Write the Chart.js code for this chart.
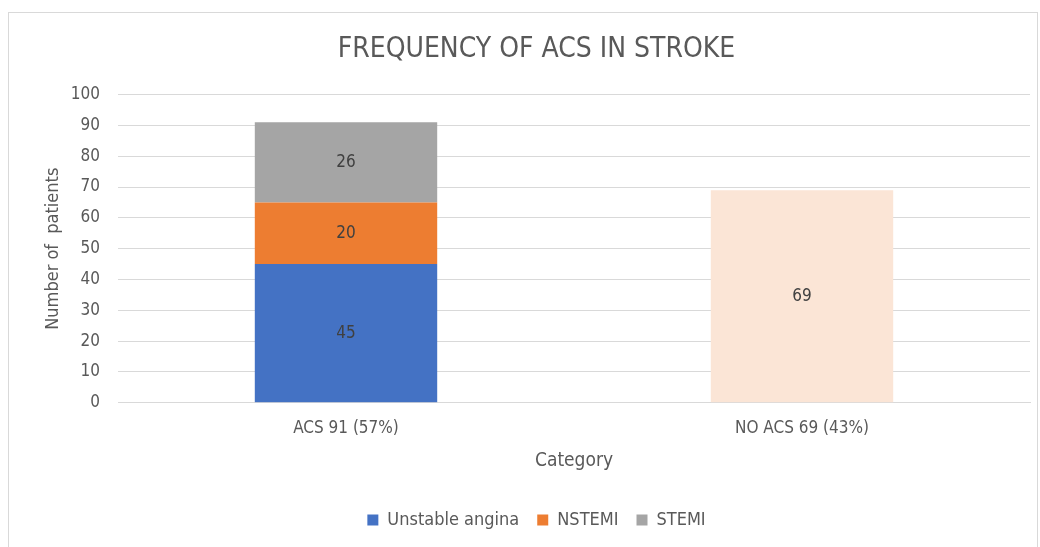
<!DOCTYPE html>
<html lang="en">

<head>
  <meta charset="UTF-8">
  <title>Frequency of ACS in stroke</title>
  <script src="https://cdn.jsdelivr.net/npm/chart.js"></script>
</head>
<style>
  body { margin: 0; background: #fff; }
  #frame { position: absolute; left: 8px; top: 12px; width: 1030px; height: 545px; border: 1px solid #d9d9d9; box-sizing: border-box; }
  #wrap { position: absolute; left: 0; top: 0; width: 1040px; height: 547px; }
</style>

<body>
  <div id="frame"></div>
  <div id="wrap"><canvas id="acsChart"></canvas></div>

  <script>
    const categories = ["ACS 91 (57%)", "NO ACS 69 (43%)"];
    const unstableAngina = [45, null];
    const nstemi = [20, null];
    const stemi = [26, null];
    const noAcs = [null, 69];
    const yTicks = [0, 10, 20, 30, 40, 50, 60, 70, 80, 90, 100];

    const FONT = "'Liberation Sans Narrow', 'DejaVu Sans Condensed', 'Liberation Sans', sans-serif";
    const TEXT = "#595959";

    // value labels in the middle of each bar segment
    const barLabels = {
      id: "barLabels",
      afterDatasetsDraw(chart) {
        const ctx = chart.ctx;
        ctx.save();
        ctx.font = "17px " + FONT;
        ctx.fillStyle = "#404040";
        ctx.textAlign = "center";
        ctx.textBaseline = "middle";
        chart.data.datasets.forEach((ds, i) => {
          chart.getDatasetMeta(i).data.forEach((bar, j) => {
            const v = ds.data[j];
            if (v == null) return;
            ctx.fillText(v, bar.x, (bar.y + bar.base) / 2);
          });
        });
        ctx.restore();
      }
    };

    const common = { categoryPercentage: 0.4, barPercentage: 1.0, borderWidth: 0 };

    new Chart("acsChart", {
      type: "bar",
      data: {
        labels: categories,
        datasets: [
          { label: "Unstable angina", data: unstableAngina, backgroundColor: "#4472c4", ...common },
          { label: "NSTEMI", data: nstemi, backgroundColor: "#ed7d31", ...common },
          { label: "STEMI", data: stemi, backgroundColor: "#a5a5a5", ...common },
          { label: "NO ACS", data: noAcs, backgroundColor: "#fbe5d6", ...common }
        ]
      },
      options: {
        responsive: true,
        maintainAspectRatio: false,
        animation: false,
        layout: { padding: { left: 43, right: 10, top: 33, bottom: 8 } },
        plugins: {
          title: {
            display: true,
            text: "FREQUENCY OF ACS IN STROKE",
            color: TEXT,
            font: { family: FONT, size: 28, weight: "normal" },
            padding: { top: 0, bottom: 28 }
          },
          legend: {
            position: "bottom",
            labels: {
              filter: item => item.text !== "NO ACS",
              color: TEXT,
              font: { family: FONT, size: 18 },
              boxWidth: 11,
              boxHeight: 11,
              padding: 18
            }
          },
          tooltip: { enabled: false }
        },
        scales: {
          x: {
            stacked: true,
            grid: { display: false },
            border: { color: "#d9d9d9" },
            ticks: { color: TEXT, font: { family: FONT, size: 17 }, padding: 8 },
            title: { display: true, text: "Category", color: TEXT, font: { family: FONT, size: 19 }, padding: { top: 2, bottom: 21 } }
          },
          y: {
            stacked: true,
            min: 0,
            max: 100,
            afterBuildTicks: axis => { axis.ticks = yTicks.map(v => ({ value: v })); },
            afterFit: axis => { axis.width = 75; },
            grid: { color: "#d9d9d9", drawTicks: false },
            border: { display: false },
            ticks: { color: TEXT, font: { family: FONT, size: 17 }, padding: 18 },
            title: { display: true, text: "Number of  patients", color: TEXT, font: { family: FONT, size: 18 }, padding: { top: 0, bottom: 0 } }
          }
        }
      },
      plugins: [barLabels]
    });
  </script>
</body>

</html>
